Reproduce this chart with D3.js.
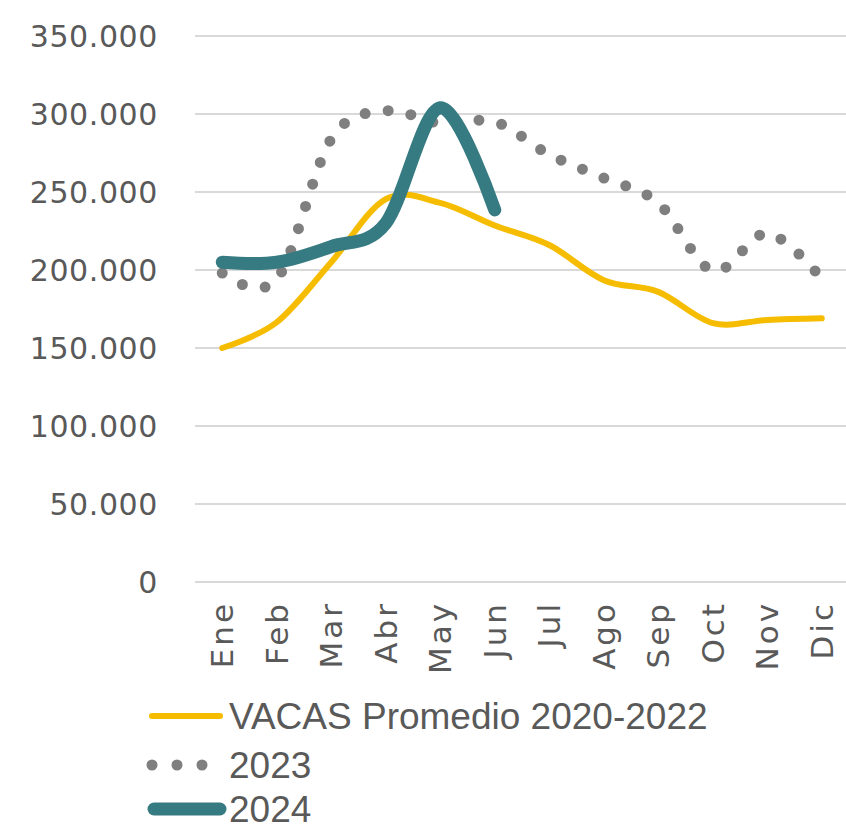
<!DOCTYPE html>
<html>
<head>
<meta charset="utf-8">
<script src="https://cdn.jsdelivr.net/npm/d3@7"></script>
<style>
  html, body { margin: 0; padding: 0; background: #fff; }
  svg { display: block; }
</style>
</head>
<body>
<div id="chart"></div>
<script>
const months = ['Ene', 'Feb', 'Mar', 'Abr', 'May', 'Jun', 'Jul', 'Ago', 'Sep', 'Oct', 'Nov', 'Dic']
const promedio = [150000, 166500, 205000, 245500, 243000, 228500, 216000, 193500, 186000, 166000, 168000, 169000]
const y2023 = [198000, 194000, 284000, 302000, 294000, 295000, 274000, 259000, 243000, 199500, 223500, 194500]
const y2024 = [205000, 205000, 215000, 230000, 304000, 238500]
const yTicks = [0, 50000, 100000, 150000, 200000, 250000, 300000, 350000]

const seriesNames = ['VACAS Promedio 2020-2022', '2023', '2024']

const width = 846
const height = 829
const margin = { top: 36, right: 0, bottom: 247, left: 195 }

const svg = d3.select('#chart').append('svg')
  .attr('width', width)
  .attr('height', height)

const x = d3.scaleBand()
  .domain(months)
  .range([margin.left, 849])

const y = d3.scaleLinear()
  .domain([0, 350000])
  .range([height - margin.bottom, margin.top])

const fmt = (v) => v === 0 ? '0' : d3.format(',')(v).replace(/,/g, '.')

// gridlines
svg.append('g')
  .selectAll('line')
  .data(yTicks)
  .enter().append('line')
  .attr('x1', margin.left)
  .attr('x2', 849)
  .attr('y1', (d) => y(d))
  .attr('y2', (d) => y(d))
  .attr('stroke', '#d9d9d9')
  .attr('stroke-width', 2)

// y labels
svg.append('g')
  .selectAll('text')
  .data(yTicks)
  .enter().append('text')
  .attr('x', 158)
  .attr('y', (d) => y(d))
  .attr('dy', '0.36em')
  .attr('text-anchor', 'end')
  .attr('fill', '#595959')
  .style('font-family', 'DejaVu Sans')
  .style('font-size', '30px')
  .style('letter-spacing', '0.6px')
  .text(fmt)

// x labels
svg.append('g')
  .selectAll('text')
  .data(months)
  .enter().append('text')
  .attr('transform', (d) => `translate(${x(d) + x.bandwidth() / 2 + 11}, 601) rotate(-90)`)
  .attr('text-anchor', 'end')
  .attr('fill', '#595959')
  .style('font-family', 'DejaVu Sans')
  .style('font-size', '31px')
  .style('letter-spacing', '3px')
  .text((d) => d)

const cx = (i) => x(months[i]) + x.bandwidth() / 2

const line = d3.line()
  .x((d, i) => cx(i))
  .y((d) => y(d))
  .curve(d3.curveCatmullRom.alpha(0))

svg.append('path')
  .datum(promedio)
  .attr('d', line)
  .attr('fill', 'none')
  .attr('stroke', '#f5bc00')
  .attr('stroke-width', 6)
  .attr('stroke-linecap', 'round')

svg.append('path')
  .datum(y2023)
  .attr('d', line)
  .attr('fill', 'none')
  .attr('stroke', '#7f7f7f')
  .attr('stroke-width', 11)
  .attr('stroke-linecap', 'round')
  .attr('stroke-dasharray', '0 23.2')

svg.append('path')
  .datum(y2024)
  .attr('d', line)
  .attr('fill', 'none')
  .attr('stroke', '#367b82')
  .attr('stroke-width', 13)
  .attr('stroke-linecap', 'round')

// legend
const legendRows = [716, 765, 809]
const legend = svg.append('g')

legend.append('line')
  .attr('x1', 152).attr('x2', 220)
  .attr('y1', legendRows[0]).attr('y2', legendRows[0])
  .attr('stroke', '#f5bc00').attr('stroke-width', 6).attr('stroke-linecap', 'round')

legend.append('line')
  .attr('x1', 152).attr('x2', 205)
  .attr('y1', legendRows[1]).attr('y2', legendRows[1])
  .attr('stroke', '#7f7f7f').attr('stroke-width', 11).attr('stroke-linecap', 'round')
  .attr('stroke-dasharray', '0 25')

legend.append('line')
  .attr('x1', 154).attr('x2', 220)
  .attr('y1', legendRows[2]).attr('y2', legendRows[2])
  .attr('stroke', '#367b82').attr('stroke-width', 13).attr('stroke-linecap', 'round')

legend.selectAll('text')
  .data(seriesNames)
  .enter().append('text')
  .attr('x', 229)
  .attr('y', (d, i) => legendRows[i])
  .attr('dy', '0.35em')
  .attr('fill', '#595959')
  .style('font-family', 'Liberation Sans')
  .style('font-size', '37px')
  .text((d) => d)
</script>
</body>
</html>
